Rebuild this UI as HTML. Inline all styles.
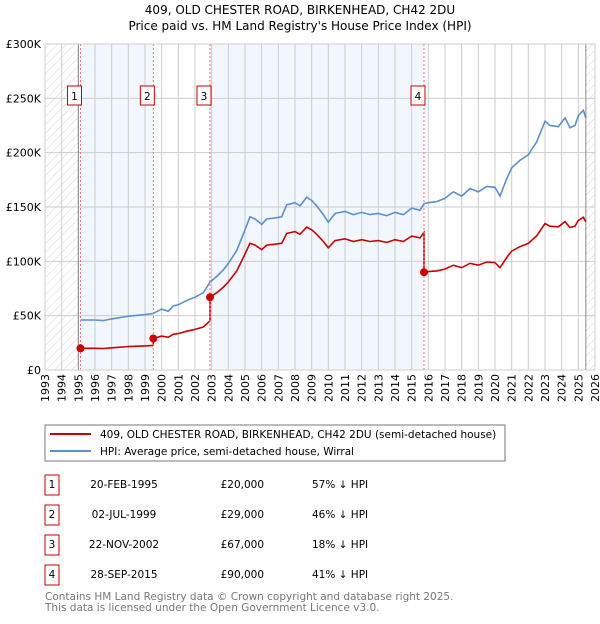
<!DOCTYPE html>
<html><head><meta charset="utf-8"><style>
body{margin:0;background:#fff;width:600px;height:620px;overflow:hidden;font-family:"DejaVu Sans","Liberation Sans",sans-serif}
svg text{font-family:"DejaVu Sans","Liberation Sans",sans-serif}
</style></head><body>
<svg id="c" width="600" height="620">
<defs><pattern id="h" width="6" height="6" patternUnits="userSpaceOnUse" patternTransform="rotate(45)"><line x1="0" y1="0" x2="0" y2="6" stroke="#ccc" stroke-width="0.8"/></pattern></defs>
<text x="300" y="14" text-anchor="middle" font-size="12">409, OLD CHESTER ROAD, BIRKENHEAD, CH42 2DU</text>
<text x="300" y="30" text-anchor="middle" font-size="12">Price paid vs. HM Land Registry's House Price Index (HPI)</text>
<g id="plot"></g>
<rect x="45" y="425" width="460" height="36" fill="#fff" stroke="#777"/>
<line x1="50" y1="434" x2="91" y2="434" stroke="#cc0000" stroke-width="2"/>
<text x="100" y="438" font-size="10.5">409, OLD CHESTER ROAD, BIRKENHEAD, CH42 2DU (semi-detached house)</text>
<line x1="50" y1="451" x2="91" y2="451" stroke="#5b8fd1" stroke-width="2"/>
<text x="100" y="455" font-size="10.5">HPI: Average price, semi-detached house, Wirral</text>
<g id="tbl"></g>
<text x="45" y="600" font-size="10.5" fill="#777">Contains HM Land Registry data © Crown copyright and database right 2025.</text>
<text x="45" y="611" font-size="10.5" fill="#777">This data is licensed under the Open Government Licence v3.0.</text>
</svg>
<script>
const hpiT=[1995.13,1996,1996.5,1997,1998,1999,1999.5,2000,2000.4,2000.7,2001,2001.5,2002,2002.5,2002.9,2003.3,2003.7,2004,2004.5,2005,2005.3,2005.6,2006,2006.3,2006.8,2007.2,2007.5,2008,2008.3,2008.7,2009,2009.3,2009.7,2010,2010.4,2011,2011.5,2012,2012.5,2013,2013.5,2014,2014.5,2015,2015.5,2015.74,2016,2016.5,2017,2017.5,2018,2018.5,2019,2019.5,2020,2020.3,2020.7,2021,2021.5,2022,2022.5,2023,2023.3,2023.8,2024.2,2024.5,2024.8,2025,2025.3,2025.45];
const hpiV=[46,46,45.5,47,49.5,51,52,56,54,59,60,64,67,71,81,86,92,98,110,129,141,139,134,139,140,141,152,154,151,159,156,151,143,136,144,146,143,145,143,144,142,145,143,149,147,153,154,155,158,164,160,167,164,169,168,160,176,186,193,198,210,229,225,224,232,223,225,234,239,232];
const saleT=[1995.13,1999.5,2002.9,2015.74];
const saleP=[20,29,67,90];
const saleLabels=["1","2","3","4"];
const saleDates=["20-FEB-1995","02-JUL-1999","22-NOV-2002","28-SEP-2015"];
const salePrices=["£20,000","£29,000","£67,000","£90,000"];
const saleDiff=["57% ↓ HPI","46% ↓ HPI","18% ↓ HPI","41% ↓ HPI"];
const yTicks=[0,50,100,150,200,250,300];
const yLabels=["£0","£50K","£100K","£150K","£200K","£250K","£300K"];
const x=t=>45+(t-1993)*550/33, y=v=>370-v*326/300;
const NS="http://www.w3.org/2000/svg", g=document.getElementById('plot');
function mk(tag,a,p){const e=document.createElementNS(NS,tag);for(const k in a)e.setAttribute(k,a[k]);(p||g).appendChild(e);return e;}
let b=mk('rect',{x:x(saleT[0]),y:44,width:x(saleT[1])-x(saleT[0]),height:326,fill:'#f2f6fd'});

b=mk('rect',{x:x(saleT[2]),y:44,width:x(saleT[3])-x(saleT[2]),height:326,fill:'#f2f6fd'});

b=mk('rect',{x:45,y:44,width:x(1995)-45,height:326,fill:'url(#h)'});

b=mk('rect',{x:x(2025.45),y:44,width:595-x(2025.45),height:326,fill:'url(#h)'});

for(let yr=1993;yr<=2026;yr++){let l=mk('line',{x1:x(yr),x2:x(yr),y1:44,y2:370,stroke:'#ccc','stroke-width':1});

let t=mk('text',{x:0,y:0,'font-size':11,'text-anchor':'end',transform:`translate(${x(yr)+4},374) rotate(-90)`});t.textContent=yr;
}
yTicks.forEach((v,i)=>{let l=mk('line',{x1:45,x2:595,y1:y(v),y2:y(v),stroke:'#ccc','stroke-width':1});

let t=mk('text',{x:41,y:y(v)+4,'font-size':11,'text-anchor':'end'});t.textContent=yLabels[i];
});
let l2=mk('line',{x1:x(1995),x2:x(1995),y1:44,y2:370,stroke:'#888'});
l2=mk('line',{x1:x(2025.45),x2:x(2025.45),y1:44,y2:370,stroke:'#888'});
const hp=hpiT.map((t,i)=>x(t).toFixed(1)+','+y(hpiV[i]).toFixed(1)).join(' ');
let pl=mk('polyline',{points:hp,fill:'none',stroke:'#5b8fd1','stroke-width':1.6});

function hpiAt(t){for(let i=1;i<hpiT.length;i++)if(t<=hpiT[i]){const f=(t-hpiT[i-1])/(hpiT[i]-hpiT[i-1]);return hpiV[i-1]+f*(hpiV[i]-hpiV[i-1]);}return hpiV[hpiV.length-1];}
let pts=[];
saleT.forEach((st,k)=>{const r=saleP[k]/hpiAt(st);const end=k<saleT.length-1?saleT[k+1]:1e9;
pts.push([st,saleP[k]]);hpiT.forEach((t,i)=>{if(t>st&&t<end)pts.push([t,hpiV[i]*r]);});
if(k<saleT.length-1)pts.push([end,hpiAt(end)*r]);});
pl=mk('polyline',{points:pts.map(p=>x(p[0]).toFixed(1)+','+y(p[1]).toFixed(1)).join(' '),fill:'none',stroke:'#cc0000','stroke-width':1.6});

saleT.forEach((t,i)=>{let d=mk('line',{x1:x(t),x2:x(t),y1:44,y2:370,stroke:'#f07070','stroke-dasharray':'2,2'});

let c=mk('circle',{cx:x(t),cy:y(saleP[i]),r:4,fill:'#cc0000'});

let r=mk('rect',{x:x(t)-13,y:86,width:14,height:19,fill:'#fff',stroke:'#cc0000'});

let tx=mk('text',{x:x(t)-6,y:100,'font-size':10.5,'text-anchor':'middle'});tx.textContent=saleLabels[i];
});
mk('rect',{x:45,y:44,width:550,height:326,fill:'none',stroke:'#ccc'});
const tb=document.getElementById('tbl');
saleT.forEach((t,i)=>{const cy=483+i*30;
let r=mk('rect',{x:45,y:cy-8,width:14,height:20,fill:'#fff',stroke:'#cc0000'},tb);

[[52,saleLabels[i],'middle'],[124,saleDates[i],'middle'],[264,salePrices[i],'end'],[312,saleDiff[i],'start']].forEach(([xx,s,a])=>{
let tx=mk('text',{x:xx,y:cy+5,'font-size':10.5,'text-anchor':a},tb);tx.textContent=s;
});});
</script>
</body></html>
